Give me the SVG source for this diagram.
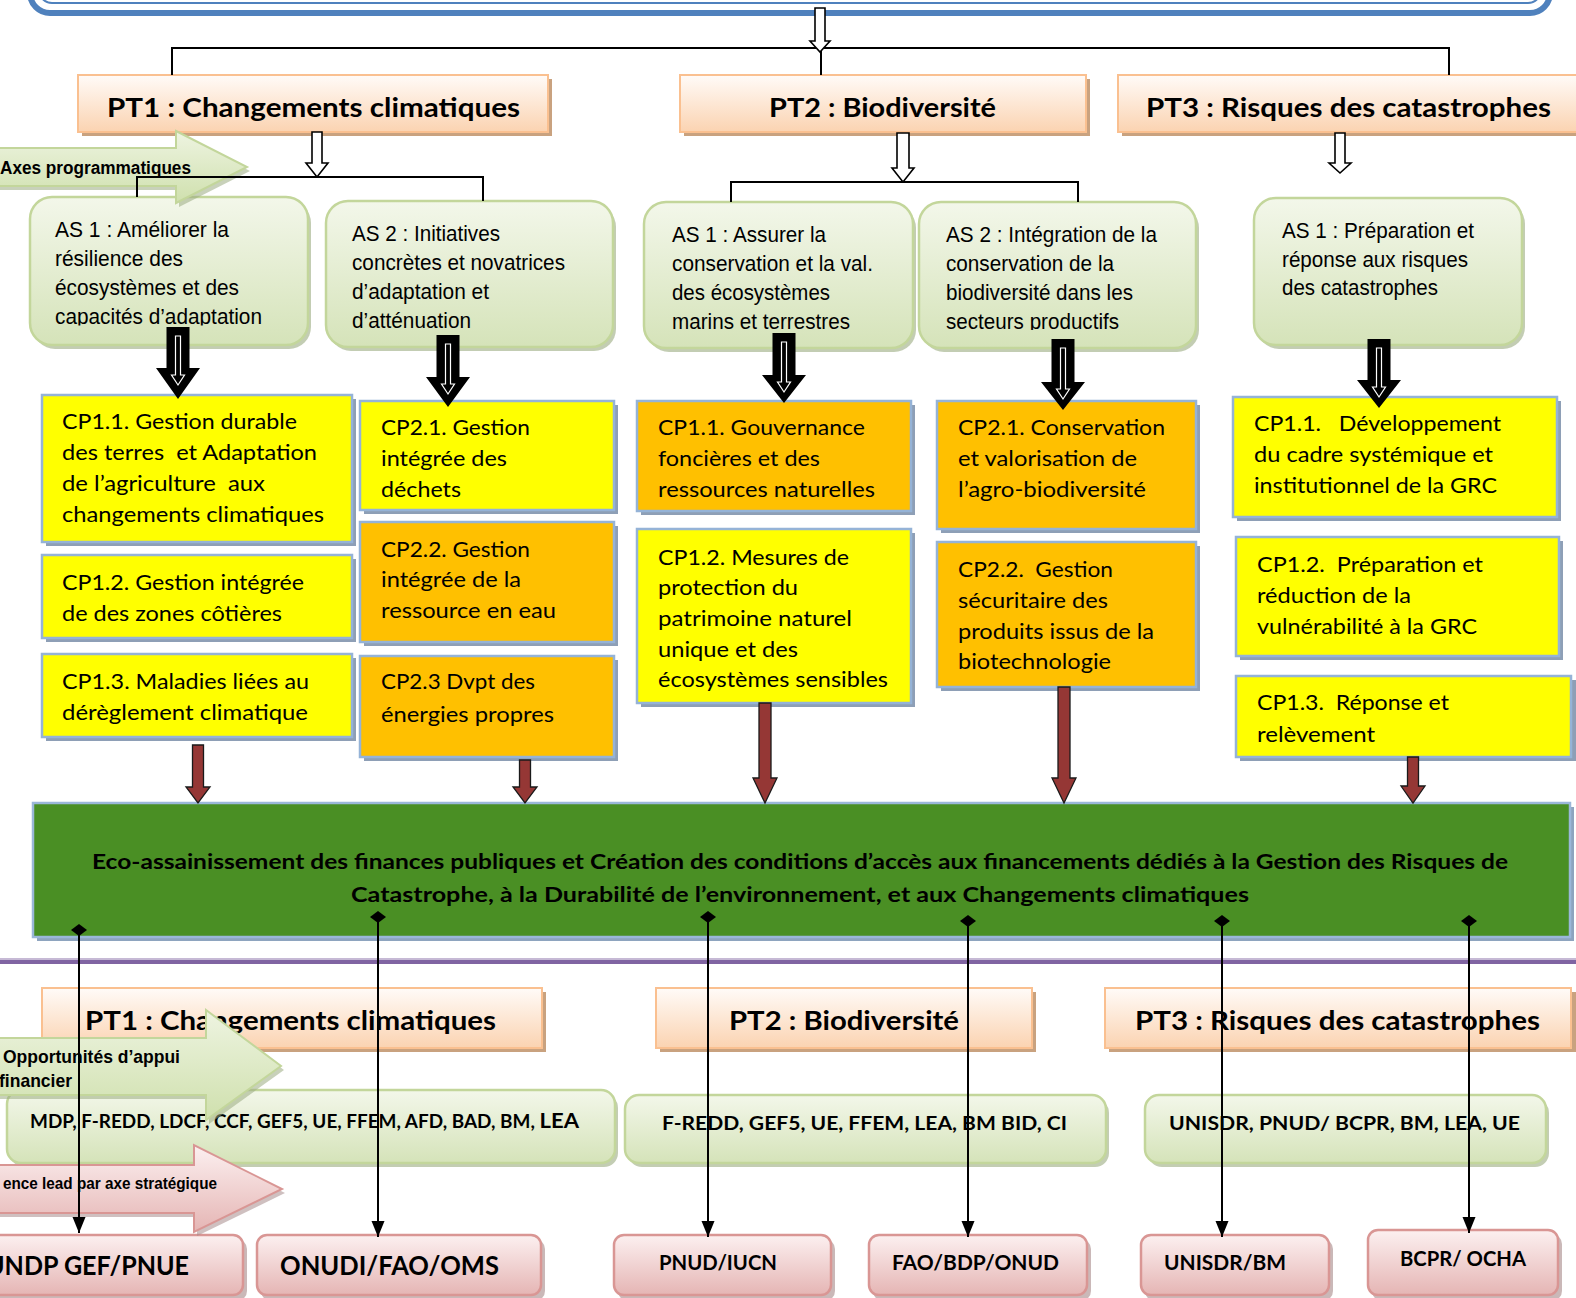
<svg xmlns="http://www.w3.org/2000/svg" width="1576" height="1298" viewBox="0 0 1576 1298">
<defs>
<linearGradient id="gPeach" x1="0" y1="0" x2="0" y2="1"><stop offset="0" stop-color="#fffbf8"/><stop offset="1" stop-color="#fbd3b1"/></linearGradient>
<linearGradient id="gGreen" x1="0" y1="0" x2="0" y2="1"><stop offset="0" stop-color="#f3f7ea"/><stop offset="1" stop-color="#d5e3b9"/></linearGradient>
<linearGradient id="gArrowG" x1="0" y1="0" x2="0" y2="1"><stop offset="0" stop-color="#eef4e1"/><stop offset="1" stop-color="#cfe0ad"/></linearGradient>
<linearGradient id="gPink" x1="0" y1="0" x2="0" y2="1"><stop offset="0" stop-color="#fcf0f0"/><stop offset="1" stop-color="#e5b5b4"/></linearGradient>
<marker id="diam" markerUnits="userSpaceOnUse" markerWidth="14" markerHeight="18" refX="7" refY="9" orient="auto-start-reverse" viewBox="0 0 14 18"><path d="M7 1 L13 9 L7 17 L1 9 Z" fill="#000"/></marker>
<marker id="tip" markerUnits="userSpaceOnUse" markerWidth="14" markerHeight="18" refX="7" refY="16" viewBox="0 0 14 18" orient="0"><path d="M0.5 0 L13.5 0 L7 16 Z" fill="#000"/></marker>
<clipPath id="clipA1"><rect x="30" y="190" width="280" height="135.5"/></clipPath>
<clipPath id="clipA4"><rect x="915" y="190" width="285" height="140"/></clipPath>
</defs>
<style>
.hdr{fill:url(#gPeach);stroke:#fac090;stroke-width:2}
.hdrsh{fill:#c9a27f}
.ht{font-family:Lato,"Open Sans",sans-serif;font-weight:bold;font-size:27px;fill:#000}
.as{fill:url(#gGreen);stroke:#c3d69b;stroke-width:2.5}
.assh{fill:#b4c0a0;opacity:.8}
.at{font-family:"Liberation Sans Narrow","Liberation Sans",Arial,sans-serif;font-size:22px;fill:#000}
.y{fill:#ffff00;stroke:#95b3d7;stroke-width:2.5}
.o{fill:#ffc000;stroke:#95b3d7;stroke-width:2.5}
.cpsh{fill:#8e9fb6}
.ct{font-family:Lato,"Open Sans",sans-serif;font-size:21px;fill:#000}
.bt{font-family:Lato,"Open Sans",sans-serif;font-weight:bold;font-size:21px;fill:#000}
.ft{font-family:Lato,"Open Sans",sans-serif;font-weight:bold;font-size:18px;fill:#000}
.fin{fill:url(#gGreen);stroke:#c3d69b;stroke-width:2.5}
.pk{fill:url(#gPink);stroke:#d99694;stroke-width:2.5}
.pksh{fill:#b49a9a;opacity:.7}
.lt{font-family:Lato,"Open Sans",sans-serif;font-weight:bold;fill:#000}
.nt{font-family:"Liberation Sans Narrow","Liberation Sans",Arial,sans-serif;font-weight:bold;fill:#000}
.hol{fill:#fff;stroke:#000;stroke-width:1.6}
.blk{fill:#000}
.inw{fill:none;stroke:#fff;stroke-width:1.2}
.red{fill:#953735;stroke:#1a1a1a;stroke-width:1.3}
.ln{fill:none;stroke:#000;stroke-width:2}
.vl{fill:none;stroke:#000;stroke-width:2;marker-start:url(#diam);marker-end:url(#tip)}
</style>
<rect width="1576" height="1298" fill="#fff"/>

<g id="banner">
<rect x="30" y="-60" width="1520" height="73" rx="20" fill="#fff" stroke="#4f81bd" stroke-width="6"/>
<rect x="39" y="-60" width="1502" height="63" rx="13" fill="none" stroke="#4f81bd" stroke-width="2"/>
</g>

<g id="pt1-top"><rect class="hdrsh" x="82" y="79" width="470" height="57"/><rect class="hdr" x="78" y="75" width="470" height="57"/><text class="ht" x="107" y="117" textLength="413" lengthAdjust="spacingAndGlyphs">PT1 : Changements climatiques</text></g>
<g id="pt2-top"><rect class="hdrsh" x="684" y="79" width="406" height="57"/><rect class="hdr" x="680" y="75" width="406" height="57"/><text class="ht" x="769" y="117" textLength="227" lengthAdjust="spacingAndGlyphs">PT2 : Biodiversité</text></g>
<g id="pt3-top"><rect class="hdrsh" x="1122" y="79" width="470" height="57"/><rect class="hdr" x="1118" y="75" width="470" height="57"/><text class="ht" x="1146" y="117" textLength="405" lengthAdjust="spacingAndGlyphs">PT3 : Risques des catastrophes</text></g>

<g id="as1-pt1"><rect class="assh" x="33" y="201" width="278" height="148" rx="22"/><rect class="as" x="30" y="197" width="278" height="148" rx="22"/>
<g clip-path="url(#clipA1)"><text class="at" x="55" y="237" textLength="174" lengthAdjust="spacingAndGlyphs">AS 1 : Améliorer la</text><text class="at" x="55" y="266" textLength="128" lengthAdjust="spacingAndGlyphs">résilience des</text><text class="at" x="55" y="295" textLength="184" lengthAdjust="spacingAndGlyphs">écosystèmes et des</text><text class="at" x="55" y="324" textLength="207" lengthAdjust="spacingAndGlyphs">capacités d’adaptation</text></g></g>
<g id="as2-pt1"><rect class="assh" x="329" y="205" width="287" height="146" rx="22"/><rect class="as" x="326" y="201" width="287" height="146" rx="22"/>
<text class="at" x="352" y="241" textLength="148" lengthAdjust="spacingAndGlyphs">AS 2 : Initiatives</text><text class="at" x="352" y="270" textLength="213" lengthAdjust="spacingAndGlyphs">concrètes et novatrices</text><text class="at" x="352" y="299" textLength="137" lengthAdjust="spacingAndGlyphs">d’adaptation et</text><text class="at" x="352" y="328" textLength="119" lengthAdjust="spacingAndGlyphs">d’atténuation</text></g>
<g id="as1-pt2"><rect class="assh" x="647" y="206" width="269" height="146" rx="22"/><rect class="as" x="644" y="202" width="269" height="146" rx="22"/>
<text class="at" x="672" y="242" textLength="154" lengthAdjust="spacingAndGlyphs">AS 1 : Assurer la</text><text class="at" x="672" y="271" textLength="201" lengthAdjust="spacingAndGlyphs">conservation et la val.</text><text class="at" x="672" y="300" textLength="158" lengthAdjust="spacingAndGlyphs">des écosystèmes</text><text class="at" x="672" y="329" textLength="178" lengthAdjust="spacingAndGlyphs">marins et terrestres</text></g>
<g id="as2-pt2"><rect class="assh" x="922" y="206" width="277" height="146" rx="22"/><rect class="as" x="919" y="202" width="277" height="146" rx="22"/>
<g clip-path="url(#clipA4)"><text class="at" x="946" y="242" textLength="211" lengthAdjust="spacingAndGlyphs">AS 2 : Intégration de la</text><text class="at" x="946" y="271" textLength="168" lengthAdjust="spacingAndGlyphs">conservation de la</text><text class="at" x="946" y="300" textLength="187" lengthAdjust="spacingAndGlyphs">biodiversité dans les</text><text class="at" x="946" y="329" textLength="173" lengthAdjust="spacingAndGlyphs">secteurs productifs</text></g></g>
<g id="as1-pt3"><rect class="assh" x="1257" y="202" width="268" height="147" rx="22"/><rect class="as" x="1254" y="198" width="268" height="147" rx="22"/>
<text class="at" x="1282" y="238" textLength="192" lengthAdjust="spacingAndGlyphs">AS 1 : Préparation et</text><text class="at" x="1282" y="267" textLength="186" lengthAdjust="spacingAndGlyphs">réponse aux risques</text><text class="at" x="1282" y="295" textLength="156" lengthAdjust="spacingAndGlyphs">des catastrophes</text></g>

<g id="axes-label">
<polygon points="-5,152 179,152 179,135 250,171 179,207 179,190 -5,190" fill="#9aab82" opacity=".55"/>
<polygon points="-5,148 176,148 176,131 247,167 176,203 176,186 -5,186" fill="url(#gArrowG)" stroke="#c3d69b" stroke-width="2"/>
<text class="nt" x="0" y="174" font-size="18" textLength="191" lengthAdjust="spacingAndGlyphs">Axes programmatiques</text>
</g>

<g id="cp11-pt1"><rect class="cpsh" x="46" y="399" width="310" height="147"/><rect class="y" x="42" y="395" width="310" height="147"/>
<text class="ct" x="62" y="429" textLength="235" lengthAdjust="spacingAndGlyphs">CP1.1. Gestion durable</text><text class="ct" x="62" y="460" textLength="255" lengthAdjust="spacingAndGlyphs" xml:space="preserve">des terres  et Adaptation</text><text class="ct" x="62" y="491" textLength="203" lengthAdjust="spacingAndGlyphs" xml:space="preserve">de l’agriculture  aux</text><text class="ct" x="62" y="522" textLength="262" lengthAdjust="spacingAndGlyphs">changements climatiques</text></g>
<g id="cp12-pt1"><rect class="cpsh" x="46" y="559" width="310" height="83"/><rect class="y" x="42" y="555" width="310" height="83"/>
<text class="ct" x="62" y="590" textLength="242" lengthAdjust="spacingAndGlyphs">CP1.2. Gestion intégrée</text><text class="ct" x="62" y="621" textLength="220" lengthAdjust="spacingAndGlyphs">de des zones côtières</text></g>
<g id="cp13-pt1"><rect class="cpsh" x="46" y="658" width="310" height="83"/><rect class="y" x="42" y="654" width="310" height="83"/>
<text class="ct" x="62" y="689" textLength="247" lengthAdjust="spacingAndGlyphs">CP1.3. Maladies liées au</text><text class="ct" x="62" y="720" textLength="246" lengthAdjust="spacingAndGlyphs">dérèglement climatique</text></g>
<g id="cp21-pt1"><rect class="cpsh" x="364" y="405" width="254" height="109"/><rect class="y" x="360" y="401" width="254" height="109"/>
<text class="ct" x="381" y="435" textLength="149" lengthAdjust="spacingAndGlyphs">CP2.1. Gestion</text><text class="ct" x="381" y="466" textLength="126" lengthAdjust="spacingAndGlyphs">intégrée des</text><text class="ct" x="381" y="497" textLength="80" lengthAdjust="spacingAndGlyphs">déchets</text></g>
<g id="cp22-pt1"><rect class="cpsh" x="364" y="526" width="254" height="120"/><rect class="o" x="360" y="522" width="254" height="120"/>
<text class="ct" x="381" y="557" textLength="149" lengthAdjust="spacingAndGlyphs">CP2.2. Gestion</text><text class="ct" x="381" y="587" textLength="140" lengthAdjust="spacingAndGlyphs">intégrée de la</text><text class="ct" x="381" y="618" textLength="175" lengthAdjust="spacingAndGlyphs">ressource en eau</text></g>
<g id="cp23-pt1"><rect class="cpsh" x="364" y="660" width="254" height="101"/><rect class="o" x="360" y="656" width="254" height="101"/>
<text class="ct" x="381" y="689" textLength="154" lengthAdjust="spacingAndGlyphs">CP2.3 Dvpt des</text><text class="ct" x="381" y="722" textLength="173" lengthAdjust="spacingAndGlyphs">énergies propres</text></g>

<g id="cp11-pt2"><rect class="cpsh" x="641" y="405" width="274" height="110"/><rect class="o" x="637" y="401" width="274" height="110"/>
<text class="ct" x="658" y="435" textLength="207" lengthAdjust="spacingAndGlyphs">CP1.1. Gouvernance</text><text class="ct" x="658" y="466" textLength="162" lengthAdjust="spacingAndGlyphs">foncières et des</text><text class="ct" x="658" y="497" textLength="217" lengthAdjust="spacingAndGlyphs">ressources naturelles</text></g>
<g id="cp12-pt2"><rect class="cpsh" x="641" y="533" width="274" height="174"/><rect class="y" x="637" y="529" width="274" height="174"/>
<text class="ct" x="658" y="565" textLength="191" lengthAdjust="spacingAndGlyphs">CP1.2. Mesures de</text><text class="ct" x="658" y="595" textLength="140" lengthAdjust="spacingAndGlyphs">protection du</text><text class="ct" x="658" y="626" textLength="194" lengthAdjust="spacingAndGlyphs">patrimoine naturel</text><text class="ct" x="658" y="657" textLength="140" lengthAdjust="spacingAndGlyphs">unique et des</text><text class="ct" x="658" y="687" textLength="230" lengthAdjust="spacingAndGlyphs">écosystèmes sensibles</text></g>
<g id="cp21-pt2"><rect class="cpsh" x="941" y="405" width="259" height="128"/><rect class="o" x="937" y="401" width="259" height="128"/>
<text class="ct" x="958" y="435" textLength="207" lengthAdjust="spacingAndGlyphs">CP2.1. Conservation</text><text class="ct" x="958" y="466" textLength="179" lengthAdjust="spacingAndGlyphs">et valorisation de</text><text class="ct" x="958" y="497" textLength="188" lengthAdjust="spacingAndGlyphs">l’agro-biodiversité</text></g>
<g id="cp22-pt2"><rect class="cpsh" x="941" y="546" width="259" height="145"/><rect class="o" x="937" y="542" width="259" height="145"/>
<text class="ct" x="958" y="577" textLength="155" lengthAdjust="spacingAndGlyphs" xml:space="preserve">CP2.2.  Gestion</text><text class="ct" x="958" y="608" textLength="150" lengthAdjust="spacingAndGlyphs">sécuritaire des</text><text class="ct" x="958" y="639" textLength="196" lengthAdjust="spacingAndGlyphs">produits issus de la</text><text class="ct" x="958" y="669" textLength="153" lengthAdjust="spacingAndGlyphs">biotechnologie</text></g>

<g id="cp11-pt3"><rect class="cpsh" x="1237" y="401" width="324" height="120"/><rect class="y" x="1233" y="397" width="324" height="120"/>
<text class="ct" x="1254" y="431" textLength="247" lengthAdjust="spacingAndGlyphs" xml:space="preserve">CP1.1.   Développement</text><text class="ct" x="1254" y="462" textLength="239" lengthAdjust="spacingAndGlyphs">du cadre systémique et</text><text class="ct" x="1254" y="493" textLength="243" lengthAdjust="spacingAndGlyphs">institutionnel de la GRC</text></g>
<g id="cp12-pt3"><rect class="cpsh" x="1240" y="541" width="323" height="119"/><rect class="y" x="1236" y="537" width="323" height="119"/>
<text class="ct" x="1257" y="572" textLength="226" lengthAdjust="spacingAndGlyphs" xml:space="preserve">CP1.2.  Préparation et</text><text class="ct" x="1257" y="603" textLength="154" lengthAdjust="spacingAndGlyphs">réduction de la</text><text class="ct" x="1257" y="634" textLength="220" lengthAdjust="spacingAndGlyphs">vulnérabilité à la GRC</text></g>
<g id="cp13-pt3"><rect class="cpsh" x="1240" y="680" width="336" height="81"/><rect class="y" x="1236" y="676" width="335" height="81"/>
<text class="ct" x="1257" y="710" textLength="192" lengthAdjust="spacingAndGlyphs" xml:space="preserve">CP1.3.  Réponse et</text><text class="ct" x="1257" y="742" textLength="118" lengthAdjust="spacingAndGlyphs">relèvement</text></g>

<g id="finance-band"><rect x="37" y="807" width="1537" height="134" fill="#8ea4bf"/><rect x="33" y="803" width="1537" height="134" fill="#4a8f24" stroke="#9bb7d9" stroke-width="2.5"/>
<text class="bt" x="92" y="869" textLength="1416" lengthAdjust="spacingAndGlyphs">Eco-assainissement des finances publiques et Création des conditions d’accès aux financements dédiés à la Gestion des Risques de</text>
<text class="bt" x="351" y="902" textLength="898" lengthAdjust="spacingAndGlyphs">Catastrophe, à la Durabilité de l’environnement, et aux Changements climatiques</text></g>

<g id="separator"><line x1="0" y1="962" x2="1576" y2="962" stroke="#8064a2" stroke-width="4"/><line x1="0" y1="959" x2="1576" y2="959" stroke="#b3a2c7" stroke-width="1.5"/></g>

<g id="pt1-bottom"><rect class="hdrsh" x="46" y="992" width="500" height="60"/><rect class="hdr" x="42" y="988" width="500" height="60"/><text class="ht" x="85" y="1030" textLength="411" lengthAdjust="spacingAndGlyphs">PT1 : Changements climatiques</text></g>
<g id="pt2-bottom"><rect class="hdrsh" x="660" y="992" width="376" height="60"/><rect class="hdr" x="656" y="988" width="376" height="60"/><text class="ht" x="729" y="1030" textLength="230" lengthAdjust="spacingAndGlyphs">PT2 : Biodiversité</text></g>
<g id="pt3-bottom"><rect class="hdrsh" x="1109" y="992" width="470" height="60"/><rect class="hdr" x="1105" y="988" width="466" height="60"/><text class="ht" x="1135" y="1030" textLength="405" lengthAdjust="spacingAndGlyphs">PT3 : Risques des catastrophes</text></g>

<g id="fin-pt1"><rect class="assh" x="10" y="1094" width="608" height="73" rx="14"/><rect class="fin" x="7" y="1090" width="608" height="73" rx="14"/><text class="ft" x="30" y="1128" textLength="549" lengthAdjust="spacingAndGlyphs">MDP, F-REDD, LDCF, CCF, GEF5, UE, FFEM, AFD, BAD, BM, <tspan font-size="21">LEA</tspan></text></g>
<g id="fin-pt2"><rect class="assh" x="628" y="1099" width="481" height="68" rx="14"/><rect class="fin" x="625" y="1095" width="481" height="68" rx="14"/><text class="ft" x="662" y="1130" textLength="405" lengthAdjust="spacingAndGlyphs">F-REDD, GEF5, UE, FFEM, LEA, BM BID, CI</text></g>
<g id="fin-pt3"><rect class="assh" x="1148" y="1099" width="401" height="68" rx="14"/><rect class="fin" x="1145" y="1095" width="401" height="68" rx="14"/><text class="ft" x="1169" y="1130" textLength="351" lengthAdjust="spacingAndGlyphs">UNISDR, PNUD/ BCPR, BM, LEA, UE</text></g>

<g id="lead-undp"><rect class="pksh" x="-16" y="1239" width="263" height="62" rx="10"/><rect class="pk" x="-20" y="1235" width="263" height="60" rx="10"/><text class="lt" x="-14" y="1275" font-size="26" textLength="203" lengthAdjust="spacingAndGlyphs">UNDP GEF/PNUE</text></g>
<g id="lead-onudi"><rect class="pksh" x="261" y="1239" width="284" height="62" rx="10"/><rect class="pk" x="257" y="1235" width="284" height="60" rx="10"/><text class="lt" x="280" y="1275" font-size="26" textLength="219" lengthAdjust="spacingAndGlyphs">ONUDI/FAO/OMS</text></g>
<g id="lead-pnud"><rect class="pksh" x="618" y="1239" width="217" height="62" rx="10"/><rect class="pk" x="614" y="1235" width="217" height="60" rx="10"/><text class="lt" x="659" y="1270" font-size="20" textLength="118" lengthAdjust="spacingAndGlyphs">PNUD/IUCN</text></g>
<g id="lead-fao"><rect class="pksh" x="873" y="1239" width="218" height="62" rx="10"/><rect class="pk" x="869" y="1235" width="218" height="60" rx="10"/><text class="lt" x="892" y="1270" font-size="20" textLength="167" lengthAdjust="spacingAndGlyphs">FAO/BDP/ONUD</text></g>
<g id="lead-unisdr"><rect class="pksh" x="1145" y="1239" width="188" height="62" rx="10"/><rect class="pk" x="1141" y="1235" width="188" height="60" rx="10"/><text class="lt" x="1164" y="1270" font-size="20" textLength="122" lengthAdjust="spacingAndGlyphs">UNISDR/BM</text></g>
<g id="lead-bcpr"><rect class="pksh" x="1372" y="1234" width="190" height="67" rx="10"/><rect class="pk" x="1368" y="1230" width="190" height="65" rx="10"/><text class="lt" x="1400" y="1266" font-size="20" textLength="126" lengthAdjust="spacingAndGlyphs">BCPR/ OCHA</text></g>

<g id="opportunites-label">
<polygon points="-5,1042 209,1042 209,1014 284,1070 209,1124 209,1099 -5,1099" fill="#9aab82" opacity=".55"/>
<polygon points="-5,1038 206,1038 206,1010 281,1066 206,1120 206,1095 -5,1095" fill="url(#gArrowG)" stroke="#c3d69b" stroke-width="2"/>
<text class="nt" x="3" y="1063" font-size="19" textLength="177" lengthAdjust="spacingAndGlyphs">Opportunités d’appui</text>
<text class="nt" x="-1" y="1087" font-size="19" textLength="73" lengthAdjust="spacingAndGlyphs">financier</text>
</g>
<g id="lead-label">
<polygon points="-5,1169 197,1169 197,1149 285,1193 197,1236 197,1217 -5,1217" fill="#a88c8c" opacity=".55"/>
<polygon points="-5,1165 194,1165 194,1145 282,1189 194,1232 194,1213 -5,1213" fill="url(#gPink)" stroke="#d99694" stroke-width="2"/>
<text class="nt" x="3" y="1189" font-size="17" textLength="214" lengthAdjust="spacingAndGlyphs">ence lead par axe stratégique</text>
</g>

<g id="connectors">
<polyline class="ln" points="172,75 172,48 1449,48 1449,75"/>
<line class="ln" x1="821" y1="48" x2="821" y2="75"/>
<path class="hol" d="M815 8 L825 8 L825 41 L830 41 L820 52 L810 41 L815 41 Z"/>
<polyline class="ln" points="137,197 137,177 483,177 483,201"/>
<polyline class="ln" points="731,202 731,182 1078,182 1078,202"/>
<path class="hol" d="M312 132 L322 132 L322 163 L328 163 L317 177 L306 163 L312 163 Z"/>
<path class="hol" d="M897 133 L909 133 L909 168 L914 168 L903 182 L892 168 L897 168 Z"/>
<path class="hol" d="M1335 133 L1345 133 L1345 163 L1351 163 L1340 173 L1329 163 L1335 163 Z"/>

<path class="blk" d="M166.5 327 L189.5 327 L189.5 368 L200 368 L178 399 L156 368 L166.5 368 Z"/>
<path class="inw" d="M175.5 336 L180.5 336 L180.5 375 L184.5 375 L178 385 L171.5 375 L175.5 375 Z"/>
<path class="blk" d="M436.5 335 L459.5 335 L459.5 377 L470 377 L448 407 L426 377 L436.5 377 Z"/>
<path class="inw" d="M445.5 344 L450.5 344 L450.5 384 L454.5 384 L448 394 L441.5 384 L445.5 384 Z"/>
<path class="blk" d="M772.5 333 L795.5 333 L795.5 375 L806 375 L784 403 L762 375 L772.5 375 Z"/>
<path class="inw" d="M781.5 342 L786.5 342 L786.5 382 L790.5 382 L784 392 L777.5 382 L781.5 382 Z"/>
<path class="blk" d="M1051.5 339 L1074.5 339 L1074.5 382 L1085 382 L1063 410 L1041 382 L1051.5 382 Z"/>
<path class="inw" d="M1060.5 348 L1065.5 348 L1065.5 389 L1069.5 389 L1063 399 L1056.5 389 L1060.5 389 Z"/>
<path class="blk" d="M1367.5 339 L1390.5 339 L1390.5 380 L1401 380 L1379 408 L1357 380 L1367.5 380 Z"/>
<path class="inw" d="M1376.5 348 L1381.5 348 L1381.5 387 L1385.5 387 L1379 397 L1372.5 387 L1376.5 387 Z"/>

<path class="red" d="M192.5 745 L203.5 745 L203.5 787 L210 787 L198 803 L186 787 L192.5 787 Z"/>
<path class="red" d="M519.5 760 L530.5 760 L530.5 787 L537 787 L525 803 L513 787 L519.5 787 Z"/>
<path class="red" d="M759 703 L771 703 L771 778 L777 778 L765 803 L753 778 L759 778 Z"/>
<path class="red" d="M1058 687 L1070 687 L1070 778 L1076 778 L1064 803 L1052 778 L1058 778 Z"/>
<path class="red" d="M1407.5 757 L1418.5 757 L1418.5 786 L1425 786 L1413 803 L1401 786 L1407.5 786 Z"/>

<line class="vl" x1="79" y1="930" x2="79" y2="1233"/>
<line class="vl" x1="378" y1="917" x2="378" y2="1237"/>
<line class="vl" x1="708" y1="917" x2="708" y2="1237"/>
<line class="vl" x1="968" y1="921" x2="968" y2="1237"/>
<line class="vl" x1="1222" y1="921" x2="1222" y2="1237"/>
<line class="vl" x1="1469" y1="921" x2="1469" y2="1233"/>
</g>
</svg>
